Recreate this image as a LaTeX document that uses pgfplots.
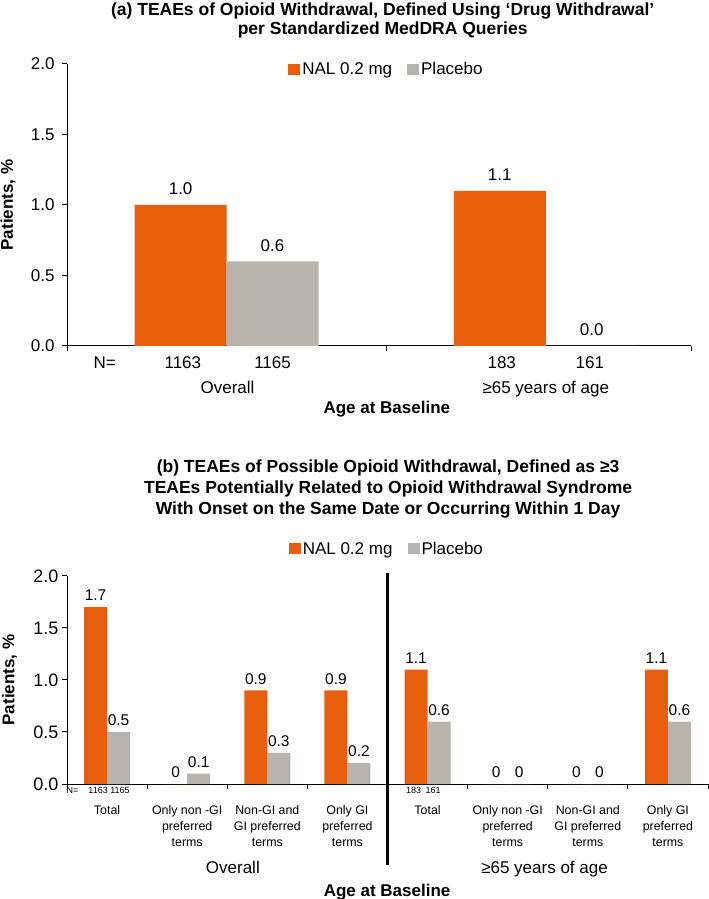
\documentclass[border=0pt]{standalone}
\usepackage{fontspec}
\setmainfont{Liberation Sans}
\usepackage{pgfplots}
\pgfplotsset{compat=1.18}
\definecolor{nal}{RGB}{233,94,12}
\definecolor{plc}{RGB}{185,179,173}
\newcommand{\fs}[1]{\fontsize{#1}{#1}\selectfont}
\newcommand{\lab}[4]{\node[font=\fs{#1}, anchor=base] at ([yshift=#2]axis cs:#3,0) {#4};}
\newcommand{\cat}[4]{\lab{12.4}{-30pt}{#1}{#2}\lab{12.4}{-46pt}{#1}{#3}\lab{12.4}{-62pt}{#1}{#4}}
\pgfplotsset{
  common/.style={
    ybar,
    scale only axis, clip=false,
    ymin=0, ymax=2, ytick={0,0.5,1,1.5,2},
    axis x line*=bottom, axis y line*=left,
    axis line style={line width=1pt, black},
    tick align=outside, major tick length=5pt,
    tick style={black, line width=1pt},
    xticklabels={},
    yticklabel style={/pgf/number format/.cd, fixed, fixed zerofill, precision=1, assume math mode=true, /tikz/.cd},
    ticklabel style={font=\fs{17}},
    legend columns=2,
    legend image code/.code={\fill[##1] (0pt,-5.5pt) rectangle (12pt,5.5pt);},
    legend style={draw=none, fill=none, font=\fs{17}, anchor=center,
      /tikz/every even column/.append style={column sep=13pt}},
  },
}
\begin{document}
\begin{tikzpicture}
\useasboundingbox (0,0) rectangle (709pt,899pt);
% ---------------- Panel (a)
\begin{axis}[common,
  at={(67pt,553pt)}, anchor=south west,
  width=624pt, height=282pt,
  xmin=-0.5, xmax=1.455,
  xtick={-0.5,0.5,1.455},
  yticklabel style={/tikz/xshift=-4pt},
  legend style={at={(0.512,0.982)}},
  nodes near coords,
  nodes near coords style={font=\fs{17}, anchor=south, inner sep=0pt, yshift=10pt,
    /pgf/number format/.cd, fixed, fixed zerofill, precision=1, assume math mode=true, /tikz/.cd},
]
\addplot[bar width=0.288, bar shift=-0.144, fill=nal, draw=none] coordinates {(0,1.0) (1,1.1)};
\addplot[bar width=0.288, bar shift=0.144, fill=plc, draw=none] coordinates {(0,0.6) (1,0.0)};
\legend{NAL 0.2 mg, Placebo}
\node[font=\fs{17.5}\bfseries, anchor=base] at ([yshift=48pt]axis cs:0.489,2) {(a) TEAEs of Opioid Withdrawal, Defined Using ‘Drug Withdrawal’};
\node[font=\fs{17.5}\bfseries, anchor=base] at ([yshift=29pt]axis cs:0.489,2) {per Standardized MedDRA Queries};
\lab{17}{-23pt}{-0.382}{N=}
\lab{17}{-23pt}{-0.137}{1163}
\lab{17}{-23pt}{0.144}{1165}
\lab{17}{-23pt}{0.862}{183}
\lab{17}{-23pt}{1.138}{161}
\lab{17}{-48pt}{0.003}{Overall}
\lab{17}{-48pt}{1.0}{≥65 years of age}
\node[font=\fs{17}\bfseries, anchor=base] at ([yshift=-68pt]axis cs:0.502,0) {Age at Baseline};
\node[font=\fs{17}\bfseries, rotate=90] at ([xshift=-59pt]axis cs:-0.5,1) {Patients, \%};
\end{axis}
% ---------------- Panel (b)
\begin{axis}[common,
  at={(67pt,115pt)}, anchor=south west,
  width=641pt, height=208pt,
  xmin=-0.5, xmax=7.5,
  xtick={-0.5,0.5,...,7.5},
  yticklabel style={/tikz/font=\fs{18}},
  legend style={at={(0.499,1.13)}},
  nodes near coords, point meta=explicit symbolic,
  nodes near coords style={font=\fs{15.5}, anchor=south, inner sep=0pt, yshift=6pt},
]
\addplot[bar width=0.287, bar shift=-0.1435, fill=nal, draw=none] coordinates {
 (0,1.7)[1.7] (1,0)[0] (2,0.9)[0.9] (3,0.9)[0.9] (4,1.1)[1.1] (5,0)[0] (6,0)[0] (7,1.1)[1.1]};
\addplot[bar width=0.287, bar shift=0.1435, fill=plc, draw=none] coordinates {
 (0,0.5)[0.5] (1,0.1)[0.1] (2,0.3)[0.3] (3,0.2)[0.2] (4,0.6)[0.6] (5,0)[0] (6,0)[0] (7,0.6)[0.6]};
\legend{NAL 0.2 mg, Placebo}
\draw[line width=2.5pt, black] ([yshift=3pt]axis cs:3.5,2) -- ([yshift=-81pt]axis cs:3.5,0);
\node[font=\fs{17.5}\bfseries, anchor=base] at ([yshift=103pt]axis cs:3.507,2) {(b) TEAEs of Possible Opioid Withdrawal, Defined as ≥3};
\node[font=\fs{17.5}\bfseries, anchor=base] at ([yshift=82pt]axis cs:3.507,2) {TEAEs Potentially Related to Opioid Withdrawal Syndrome};
\node[font=\fs{17.5}\bfseries, anchor=base] at ([yshift=61pt]axis cs:3.507,2) {With Onset on the Same Date or Occurring Within 1 Day};
\lab{9}{-9.5pt}{-0.43}{N=}
\lab{9}{-9.5pt}{-0.112}{1163}
\lab{9}{-9.5pt}{0.162}{1165}
\lab{9}{-9.5pt}{3.825}{183}
\lab{9}{-9.5pt}{4.069}{161}
\cat{0}{Total}{}{}
\cat{1}{Only non -GI}{preferred}{terms}
\cat{2}{Non-GI and}{GI preferred}{terms}
\cat{3}{Only GI}{preferred}{terms}
\cat{4}{Total}{}{}
\cat{5}{Only non -GI}{preferred}{terms}
\cat{6}{Non-GI and}{GI preferred}{terms}
\cat{7}{Only GI}{preferred}{terms}
\lab{17}{-89pt}{1.57}{Overall}
\lab{17}{-89pt}{5.46}{≥65 years of age}
\node[font=\fs{17}\bfseries, anchor=base] at ([yshift=-112pt]axis cs:3.495,0) {Age at Baseline};
\node[font=\fs{17}\bfseries, rotate=90] at ([xshift=-57.5pt]axis cs:-0.5,1) {Patients, \%};
\end{axis}
\end{tikzpicture}
\end{document}
